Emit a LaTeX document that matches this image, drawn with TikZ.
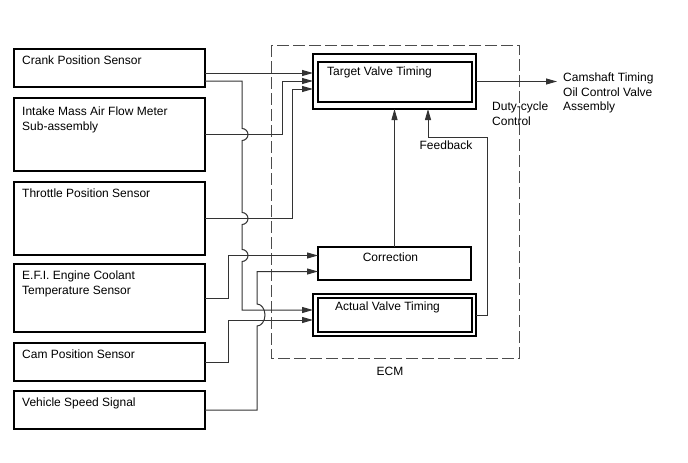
\documentclass[tikz,border=0pt]{standalone}
\usepackage{fontspec}
\setmainfont{Liberation Sans}
\usepackage{tikz}
\usetikzlibrary{arrows.meta, positioning, calc}
\newcommand\diafont{\fontsize{12pt}{14.5pt}\selectfont}

\begin{document}
\begin{tikzpicture}[
            x=1pt, y=1pt,
            sensor/.style ={rectangle, draw, line width=1.5pt, minimum width=191pt,
                            inner sep=0pt, outer sep=0pt},
            ecmbox/.style ={rectangle, draw, line width=1.5pt, inner sep=0pt, outer sep=0pt},
            txt/.style    ={font=\diafont, inner sep=0pt, align=left},
            intxt/.style  ={txt, anchor=north west, xshift=8pt, yshift=-7pt},
            frame/.style  ={draw=black!70, line width=1pt, dash pattern=on 12pt off 4pt},
            wire/.style   ={line width=1pt, black!80},
            arr/.style    ={wire, -{Triangle[length=11pt, width=6pt]}}
        ]
            \useasboundingbox (0,0) rectangle (688,-463);

            % --- Nodos (Columna Izquierda: Sensores) ---
            \node[sensor, minimum height=38pt, anchor=north west] (crank) at (14,-49)
                 [label={[intxt]north west:Crank Position Sensor}] {};
            \node[sensor, minimum height=73pt, below=11pt of crank] (intake)
                 [label={[intxt, yshift=-2pt]north west:{Intake Mass Air Flow Meter\\Sub-assembly}}] {};
            \node[sensor, minimum height=73pt, below=11pt of intake] (throttle)
                 [label={[intxt]north west:Throttle Position Sensor}] {};
            \node[sensor, minimum height=68pt, below=9pt of throttle] (efi)
                 [label={[intxt]north west:{E.F.I. Engine Coolant\\Temperature Sensor}}] {};
            \node[sensor, minimum height=38pt, below=11pt of efi] (cam)
                 [label={[intxt]north west:Cam Position Sensor}] {};
            \node[sensor, minimum height=38pt, below=10pt of cam] (speed)
                 [label={[intxt]north west:Vehicle Speed Signal}] {};

            % --- Nodos (ECM) ---
            \draw[frame] (271,-45) rectangle (519,-358);
            \node[txt] (ecm) at (390,-371) {ECM};

            \node[ecmbox, minimum width=163pt, minimum height=55pt, anchor=north west] (target) at (313,-54)
                 [label={[txt, anchor=north west, xshift=14pt, yshift=-13pt]north west:Target Valve Timing}] {};
            \draw[ecmbox] ([shift={(5,-8)}]target.north west) rectangle ([shift={(-4,7)}]target.south east);
            \node[ecmbox, minimum width=153pt, minimum height=33pt, below=138pt of target] (correction)
                 [label={[txt, anchor=north, xshift=-4pt, yshift=-6pt]north:Correction}] {};
            \node[ecmbox, minimum width=163pt, minimum height=42pt, below=14pt of correction] (actual)
                 [label={[txt, anchor=north, xshift=-7pt, yshift=-8pt]north:Actual Valve Timing}] {};
            \draw[ecmbox] ([shift={(5,-4)}]actual.north west) rectangle ([shift={(-4,4)}]actual.south east);

            % --- Textos de salida ---
            \node[txt, anchor=north west] (ocv) at (563,-73) {Camshaft Timing\\Oil Control Valve\\Assembly};
            \node[txt, anchor=north west] (duty) at (492,-102) {Duty-cycle\\Control};
            \node[txt] (feedback) at (446,-145.5) {Feedback};

            % --- Puntos de entrada y buses ---
            \coordinate (t1) at ([yshift=8.5pt]target.west);
            \coordinate (t2) at ([yshift=0.5pt]target.west);
            \coordinate (t3) at ([yshift=-7.5pt]target.west);
            \coordinate (c1) at ([yshift=8pt]correction.west);
            \coordinate (c2) at ([yshift=-8pt]correction.west);
            \coordinate (a1) at ([yshift=5pt]actual.west);
            \coordinate (a2) at ([yshift=-5pt]actual.west);
            \coordinate (busA) at (242,0);
            \coordinate (busB) at (282,0);
            \coordinate (busC) at (292,0);
            \coordinate (busD) at (228,0);
            \coordinate (busE) at (257,0);
            \coordinate (fbk)  at ([xshift=33.5pt]target.south);
            \coordinate (ocvin) at ([xshift=-6pt]ocv.west);

            % --- Enlaces hacia Target Valve Timing ---
            \draw[arr] (t1 -| crank.east) -- (t1);
            \draw[arr] (intake.east) -| (t2 -| busB) -- (t2);
            \draw[arr] (throttle.east) -| (t3 -| busC) -- (t3);

            % Crank hacia Actual (salta sobre las otras lineas)
            \draw[arr] (t2 -| crank.east) -- (t2 -| busA)
                -- ($(intake.east -| busA)+(0,6)$) arc[start angle=90, end angle=-90, radius=6]
                -- ($(throttle.east -| busA)+(0,6)$) arc[start angle=90, end angle=-90, radius=6]
                -- ($(c1 -| busA)+(0,6)$) arc[start angle=90, end angle=-90, radius=6]
                |- (a1);

            % --- Enlaces hacia Correction ---
            \draw[arr] (efi.east) -| (c1 -| busD) -- (c1);
            \draw[arr] (speed.east) -| ($(actual.west -| busE)+(0,-11)$)
                arc[start angle=-90, end angle=90, x radius=8, y radius=11]
                |- (c2);

            % --- Enlaces hacia Actual ---
            \draw[arr] (cam.east) -| (a2 -| busD) -- (a2);

            % --- Bucle interno del ECM ---
            \draw[arr] (correction.north) -- (target.south);
            \draw[arr] (actual.east) -- ++(11,0) |- ([yshift=-28pt]fbk) -- (fbk);

            % --- Salida ---
            \draw[arr] (target.east) -- (target.east -| ocvin);

        \end{tikzpicture}
\end{document}
